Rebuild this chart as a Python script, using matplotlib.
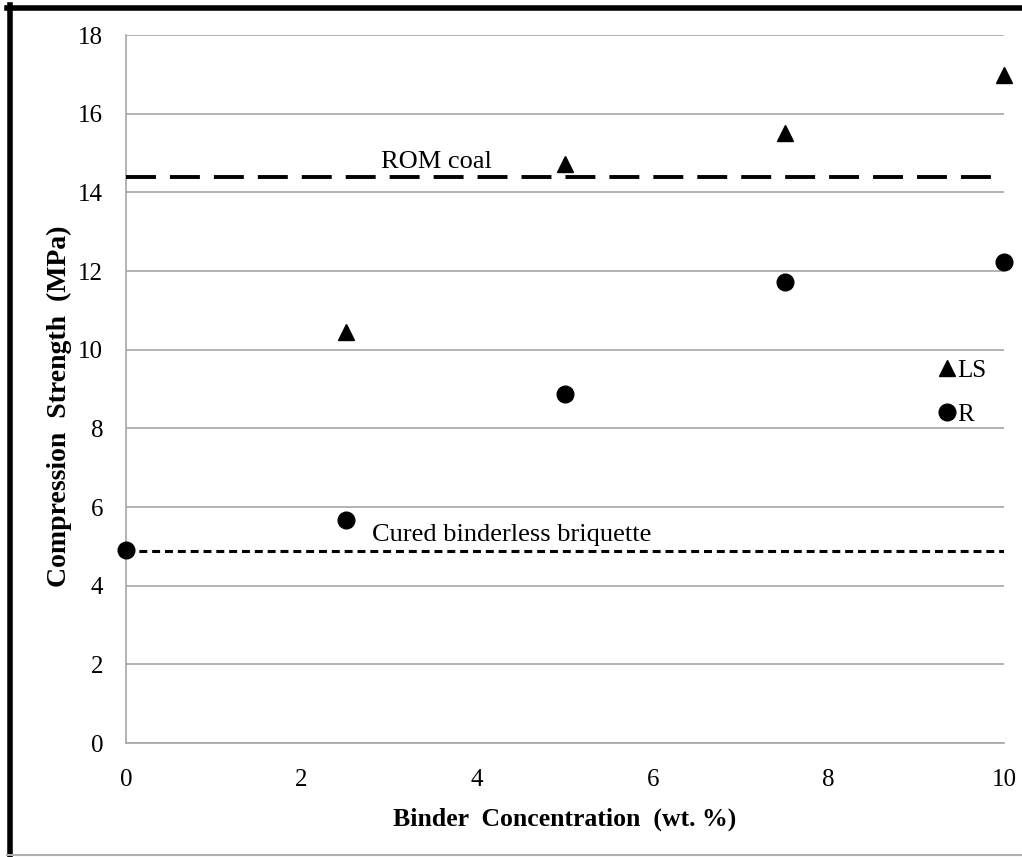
import matplotlib
matplotlib.use("Agg")
import matplotlib.pyplot as plt
from matplotlib.lines import Line2D

# Data
binder_ls = [2.5, 5, 7.5, 10]
strength_ls = [10.45, 14.72, 15.52, 16.98]
binder_r = [0, 2.5, 5, 7.5, 10]
strength_r = [4.9, 5.68, 8.87, 11.72, 12.23]
rom_coal = 14.4
cured_binderless = 4.88
x_ticks = [0, 2, 4, 6, 8, 10]
y_ticks = [0, 2, 4, 6, 8, 10, 12, 14, 16, 18]

plt.rcParams['font.family'] = ['Liberation Serif', 'DejaVu Serif']

W, H = 1022, 857
fig = plt.figure(figsize=(W / 100, H / 100), dpi=100)
ax = fig.add_axes([126 / W, 1 - 743 / H, (1004 - 126) / W, (743 - 35) / H])

ax.set_xlim(0, 10)
ax.set_ylim(0, 18)
ax.set_xticks(x_ticks)
ax.set_yticks(y_ticks)
ax.tick_params(length=0, labelsize=18)
ax.tick_params(axis='y', pad=16.5)
ax.tick_params(axis='x', pad=19)
ax.grid(axis='y', color='#a6a6a6', linewidth=1.2)
ax.set_axisbelow(True)
for s in ['top', 'right']:
    ax.spines[s].set_visible(False)
for s in ['left', 'bottom']:
    ax.spines[s].set_color('#a6a6a6')
    ax.spines[s].set_linewidth(1.2)

ax.axhline(rom_coal, color='black', linewidth=2.8, dashes=(7.7, 3.6), zorder=3)
ax.axhline(cured_binderless, color='black', linewidth=2.2, dashes=(2.6, 1.6), zorder=3)

l1, = ax.plot(binder_ls, strength_ls, linestyle='none', marker='^', markersize=12,
              color='black', zorder=4, clip_on=False, label='LS')
l2, = ax.plot(binder_r, strength_r, linestyle='none', marker='o', markersize=12,
              color='black', zorder=4, clip_on=False, label='R')

ax.text(2.9, 14.5, 'ROM coal', fontsize=19, ha='left', va='bottom')
ax.text(2.8, 5.0, 'Cured binderless briquette', fontsize=19, ha='left', va='bottom')

ax.legend(handles=[l1, l2], loc='center left', bbox_to_anchor=(0.915, 0.495),
          frameon=False, fontsize=18, handlelength=0.6, handletextpad=0.1,
          labelspacing=0.85, borderaxespad=0)

ax.set_xlabel('Binder  Concentration  (wt. %)', fontsize=18.5, fontweight='bold', labelpad=12)
ax.set_ylabel('Compression  Strength  (MPa)', fontsize=20, fontweight='bold')
ax.yaxis.set_label_coords(-0.062, 0.475)

# figure frame
fig.add_artist(Line2D([9.5 / W, 9.5 / W], [0, 1 - 5 / H], color='black', linewidth=4, transform=fig.transFigure))
fig.add_artist(Line2D([7 / W, 1], [1 - 7.5 / H, 1 - 7.5 / H], color='black', linewidth=4, transform=fig.transFigure))
fig.add_artist(Line2D([7 / W, 1], [2 / H, 2 / H], color='#b0b0b0', linewidth=1.5, transform=fig.transFigure))

fig.savefig('out.png', dpi=100)
